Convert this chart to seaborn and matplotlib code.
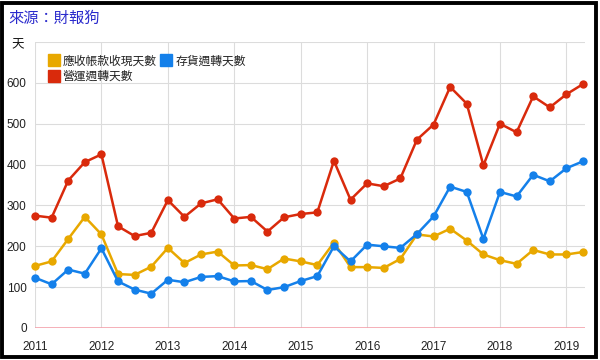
import matplotlib
matplotlib.use("Agg")
import matplotlib.pyplot as plt
import seaborn as sns
import pandas as pd
from matplotlib.patches import Rectangle
from matplotlib.lines import Line2D

quarters = [2011.0, 2011.25, 2011.5, 2011.75, 2012.0, 2012.25, 2012.5, 2012.75,
            2013.0, 2013.25, 2013.5, 2013.75, 2014.0, 2014.25, 2014.5, 2014.75,
            2015.0, 2015.25, 2015.5, 2015.75, 2016.0, 2016.25, 2016.5, 2016.75,
            2017.0, 2017.25, 2017.5, 2017.75, 2018.0, 2018.25, 2018.5, 2018.75,
            2019.0, 2019.25]
receivable_days = [152, 163, 218, 272, 229, 132, 130, 150, 196, 159, 180, 187,
                   153, 154, 144, 170, 163, 154, 209, 149, 149, 147, 169, 229,
                   224, 243, 214, 180, 166, 157, 191, 180, 180, 186]
inventory_days = [123, 107, 143, 133, 195, 114, 94, 84, 118, 112, 125, 127,
                  114, 115, 93, 100, 115, 127, 200, 163, 204, 200, 196, 230,
                  273, 346, 333, 218, 333, 322, 375, 359, 391, 408]
operating_days = [275, 270, 361, 406, 425, 249, 225, 233, 313, 272, 305, 315,
                  268, 272, 236, 271, 279, 283, 409, 314, 354, 347, 366, 461,
                  498, 590, 549, 398, 500, 479, 567, 540, 572, 597]
series_names = ["應收帳款收現天數", "存貨週轉天數", "營運週轉天數"]
year_ticks = [2011, 2012, 2013, 2014, 2015, 2016, 2017, 2018, 2019]
y_ticks = [0, 100, 200, 300, 400, 500, 600, 700]
y_labels = ["0", "100", "200", "300", "400", "500", "600", ""]

colors = {"應收帳款收現天數": "#e8a800", "存貨週轉天數": "#1480ea", "營運週轉天數": "#d92a0c"}

df = pd.DataFrame({
    "q": quarters * 3,
    "v": receivable_days + inventory_days + operating_days,
    "s": [series_names[0]] * len(quarters) + [series_names[1]] * len(quarters)
         + [series_names[2]] * len(quarters),
})

sns.set_theme(style="white")
plt.rcParams["font.family"] = ["Liberation Sans", "Noto Sans CJK TC", "DejaVu Sans"]

fig = plt.figure(figsize=(6, 3.6), dpi=100)
ax = fig.add_axes([35 / 600, 32 / 360, 550 / 600, 286 / 360])

sns.lineplot(data=df, x="q", y="v", hue="s", palette=colors, marker="o",
             markersize=6, markeredgewidth=0, linewidth=1.8, ax=ax, legend=False,
             zorder=3)
for ln in ax.lines:
    ln.set_clip_on(False)

ax.set_xlim(2011, 2019.28)
ax.set_ylim(0, 700)
ax.set_xticks(year_ticks)
ax.set_xticklabels([str(y) for y in year_ticks])
ax.set_yticks(y_ticks)
ax.set_yticklabels(y_labels)
ax.tick_params(axis="both", length=0, labelsize=8.5, labelcolor="#222222")
ax.tick_params(axis="x", pad=9)
ax.tick_params(axis="y", pad=6)
ax.grid(True, color="#dcdcdc", linewidth=0.8)
ax.axhline(0, color="#f4a2ac", linewidth=1.2, zorder=2)
for sp in ax.spines.values():
    sp.set_visible(False)
ax.set_xlabel("")
ax.set_ylabel("")

handles = [Line2D([], [], marker="s", linestyle="none", markersize=8,
                  markerfacecolor=colors[n], markeredgecolor=colors[n]) for n in
           [series_names[0], series_names[2], series_names[1]]]
labels = [series_names[0], series_names[2], series_names[1]]
leg = fig.legend(handles, labels, ncol=2, loc="upper left",
                 bbox_to_anchor=(40 / 600, 1 - 47 / 360), frameon=False,
                 fontsize=8.5, handlelength=0.9, handletextpad=0.3,
                 columnspacing=0.4, labelspacing=0.3, borderpad=0.2)
for t in leg.get_texts():
    t.set_color("#222222")

fig.text(8 / 600, 1 - 18 / 360, "來源：財報狗", color="#2a2acc", fontsize=11,
         ha="left", va="center", family=["Noto Sans CJK TC", "DejaVu Sans"])
fig.text(18 / 600, 1 - 45 / 360, "天", color="#111111", fontsize=9,
         ha="center", va="center", family=["Noto Sans CJK TC", "DejaVu Sans"])

fig.patches.append(Rectangle((0.004, 0.007), 0.990, 0.986, transform=fig.transFigure,
                             fill=False, edgecolor="black", linewidth=2.8))

fig.savefig("out.png", dpi=100)
